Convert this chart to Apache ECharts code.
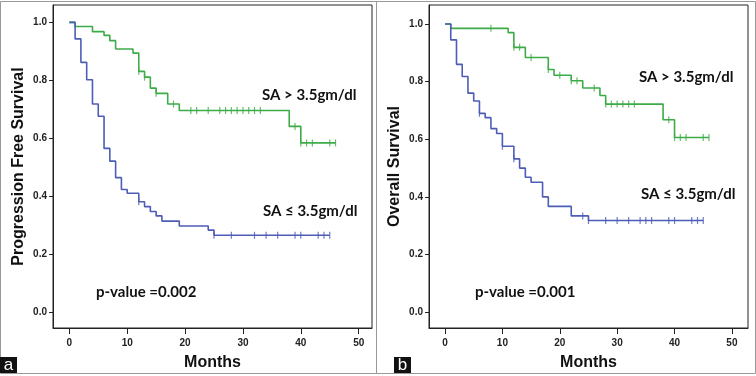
<!DOCTYPE html>
<html>
<head>
<meta charset="utf-8">
<script src="https://cdn.jsdelivr.net/npm/echarts@6/dist/echarts.min.js"></script>
<style>
  html, body { margin: 0; padding: 0; background: #fff; }
  #chart { width: 756px; height: 376px; }
</style>
</head>
<body>
<div id="chart"></div>
<script>
// 月份刻度
const monthTicks = [0, 10, 20, 30, 40, 50]
const survTicks = [0, 0.2, 0.4, 0.6, 0.8, 1.0]

// a: 无进展生存 SA > 3.5
const pfsHighTime = [0, 1, 4, 6, 7, 8, 11, 12, 13, 14, 15, 17, 19, 38, 40, 46]
const pfsHighSurv = [1.0, 0.986, 0.968, 0.955, 0.937, 0.908, 0.894, 0.831, 0.811, 0.773, 0.755, 0.718, 0.696, 0.641, 0.584, 0.584]
const pfsHighCensor = [12, 13, 15, 18, 21, 22, 24, 26, 27, 28, 29, 30, 31, 32, 33, 39, 40, 41, 42, 45, 46]
// a: SA <= 3.5
const pfsLowTime = [0, 1, 2, 3, 4, 5, 6, 7, 8, 9, 10, 12, 13, 14, 15, 16, 19, 24, 25, 45]
const pfsLowSurv = [1.0, 0.943, 0.862, 0.802, 0.718, 0.676, 0.565, 0.521, 0.464, 0.423, 0.41, 0.381, 0.364, 0.347, 0.332, 0.314, 0.297, 0.283, 0.265, 0.265]
const pfsLowCensor = [12, 25, 28, 32, 34, 36, 39, 40, 43, 44, 45]

// b: 总生存 SA > 3.5
const osHighTime = [0, 1, 11, 12, 14, 18, 19, 22, 24, 27, 28, 38, 40, 46]
const osHighSurv = [1.0, 0.985, 0.97, 0.919, 0.884, 0.842, 0.822, 0.803, 0.778, 0.752, 0.722, 0.668, 0.606, 0.606]
const osHighCensor = [8, 12, 13, 15, 18, 20, 22, 23, 26, 28, 29, 30, 31, 32, 33, 39, 40, 41, 42, 45, 46]
// b: SA <= 3.5
const osLowTime = [0, 1, 2, 3, 4, 5, 6, 7, 8, 9, 10, 12, 13, 14, 15, 17, 18, 22, 25, 45]
const osLowSurv = [1.0, 0.945, 0.86, 0.818, 0.76, 0.733, 0.69, 0.675, 0.637, 0.62, 0.576, 0.532, 0.5, 0.468, 0.451, 0.4, 0.367, 0.334, 0.318, 0.318]
const osLowCensor = [6, 10, 12, 24, 25, 28, 30, 32, 34, 35, 36, 39, 40, 43, 44, 45]

const green = '#3dab47'
const blue = '#4d5db6'

// 把时间和生存率拼成坐标
function pairs(t, s) {
  return t.map((x, i) => [x, s[i]])
}
// 删失点取当时的生存率
function censorPts(t, s, c) {
  return c.map((x) => {
    let v = s[0]
    t.forEach((tt, i) => {
      if (tt <= x) v = s[i]
    })
    return [x, v]
  })
}

function curve(idx, t, s, color) {
  return {
    type: 'line',
    step: 'end',
    xAxisIndex: idx,
    yAxisIndex: idx,
    symbol: 'none',
    lineStyle: { color: color, width: 1.6 },
    data: pairs(t, s),
  }
}
function censor(idx, t, s, c, color) {
  return {
    type: 'scatter',
    xAxisIndex: idx,
    yAxisIndex: idx,
    symbol: 'rect',
    symbolSize: [1.2, 7],
    itemStyle: { color: color },
    data: censorPts(t, s, c),
  }
}

function xAxis(idx, min, max) {
  return {
    type: 'value',
    gridIndex: idx,
    min: min,
    max: max,
    name: 'Months',
    nameLocation: 'middle',
    nameGap: 27,
    nameTextStyle: { fontFamily: 'Liberation Sans', fontWeight: 'bold', fontSize: 16, color: '#111' },
    splitLine: { show: false },
    axisLine: { onZero: false, lineStyle: { color: '#222', width: 1 } },
    axisTick: { customValues: monthTicks, length: 6, lineStyle: { color: '#222' } },
    axisLabel: {
      customValues: monthTicks,
      margin: 10,
      fontFamily: 'Liberation Sans',
      fontWeight: 'bold',
      fontSize: 10,
      color: '#222',
    },
  }
}
function yAxis(idx, name, max) {
  return {
    type: 'value',
    gridIndex: idx,
    min: -0.055,
    max: max,
    name: name,
    nameLocation: 'middle',
    nameGap: 26,
    nameRotate: 90,
    nameTextStyle: { fontFamily: 'Liberation Sans', fontWeight: 'bold', fontSize: 16, color: '#111' },
    splitLine: { show: false },
    axisLine: { onZero: false, lineStyle: { color: '#222', width: 1 } },
    axisTick: { customValues: survTicks, length: 4, lineStyle: { color: '#222' } },
    axisLabel: {
      customValues: survTicks,
      margin: 6,
      fontFamily: 'Liberation Sans',
      fontWeight: 'bold',
      fontSize: 10,
      color: '#222',
      formatter: (v) => v.toFixed(1),
    },
  }
}

function note(x, y, text) {
  return {
    type: 'text',
    x: x,
    y: y,
    style: {
      text: text,
      fontFamily: 'Lato',
      fontWeight: 'bold',
      fontSize: 15,
      fill: '#111',
      textVerticalAlign: 'middle',
    },
  }
}
function tag(x, letter) {
  return {
    type: 'group',
    children: [
      { type: 'rect', shape: { x: x, y: 357, width: 17, height: 16 }, style: { fill: '#111' } },
      {
        type: 'text',
        x: x + 8.5,
        y: 365,
        style: {
          text: letter,
          fontFamily: 'Liberation Sans',
          fontSize: 17,
          fill: '#fff',
          textAlign: 'center',
          textVerticalAlign: 'middle',
        },
      },
    ],
  }
}

const option = {
  animation: false,
  grid: [
    { left: 53, top: 5, width: 319, height: 324, show: true, borderColor: '#222', borderWidth: 1 },
    { left: 429, top: 5, width: 319, height: 324, show: true, borderColor: '#222', borderWidth: 1 },
  ],
  xAxis: [xAxis(0, -2.82, 52.3), xAxis(1, -2.79, 52.8)],
  yAxis: [yAxis(0, 'Progression Free Survival', 1.06), yAxis(1, 'Overall Survival', 1.066)],
  series: [
    curve(0, pfsHighTime, pfsHighSurv, green),
    censor(0, pfsHighTime, pfsHighSurv, pfsHighCensor, green),
    curve(0, pfsLowTime, pfsLowSurv, blue),
    censor(0, pfsLowTime, pfsLowSurv, pfsLowCensor, blue),
    curve(1, osHighTime, osHighSurv, green),
    censor(1, osHighTime, osHighSurv, osHighCensor, green),
    curve(1, osLowTime, osLowSurv, blue),
    censor(1, osLowTime, osLowSurv, osLowCensor, blue),
  ],
  graphic: [
    { type: 'rect', shape: { x: 0.5, y: 1.5, width: 755, height: 372 }, style: { fill: 'none', stroke: '#999', lineWidth: 1 } },
    { type: 'line', shape: { x1: 376.5, y1: 1.5, x2: 376.5, y2: 373.5 }, style: { stroke: '#999', lineWidth: 1 } },
    note(262, 95, 'SA > 3.5gm/dl'),
    note(263, 211, 'SA ≤ 3.5gm/dl'),
    note(96, 292, 'p-value =0.002'),
    note(639, 77, 'SA > 3.5gm/dl'),
    note(641, 194, 'SA ≤ 3.5gm/dl'),
    note(475, 292, 'p-value =0.001'),
    tag(0, 'a'),
    tag(394, 'b'),
  ],
}
echarts.init(document.getElementById('chart')).setOption(option)
</script>
</body>
</html>
